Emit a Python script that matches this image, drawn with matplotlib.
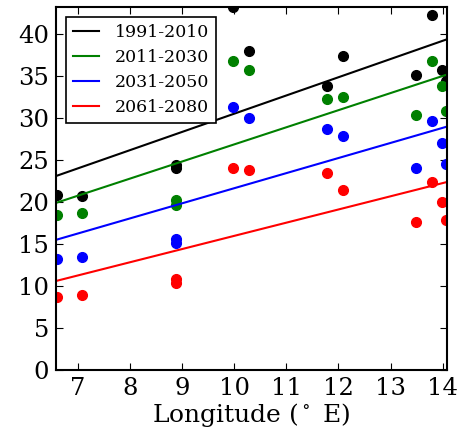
import matplotlib
matplotlib.use('Agg')
import matplotlib.pyplot as plt
import numpy as np

plt.rcParams['font.family'] = 'DejaVu Serif'
plt.rcParams['mathtext.fontset'] = 'dejavuserif'

# station longitudes (deg E)
lon = [6.60, 7.09, 8.88, 8.88, 9.98, 10.29, 11.79, 12.09, 13.49, 13.79, 13.99, 14.06]

periods = ['1991-2010', '2011-2030', '2031-2050', '2061-2080']
colors = ['k', 'g', 'b', 'r']

vals_1991 = [20.8, 20.7, 24.0, 24.4, 43.2, 38.0, 33.8, 37.4, 35.1, 42.3, 35.7, 34.4]
vals_2011 = [18.4, 18.65, 20.2, 19.6, 36.8, 35.7, 32.3, 32.5, 30.4, 36.8, 33.8, 30.9]
vals_2031 = [13.2, 13.45, 15.55, 15.1, 31.3, 30.0, 28.65, 27.9, 24.0, 29.7, 27.0, 24.5]
vals_2061 = [8.7, 8.9, 10.8, 10.4, 24.1, 23.8, 23.5, 21.4, 17.65, 22.4, 20.0, 17.9]
all_vals = [vals_1991, vals_2011, vals_2031, vals_2061]

# trend lines: value at left and right edge
trend_x = [6.585, 14.09]
trend_1991 = [23.1, 39.4]
trend_2011 = [19.9, 35.2]
trend_2031 = [15.5, 29.0]
trend_2061 = [10.6, 22.4]
all_trends = [trend_1991, trend_2011, trend_2031, trend_2061]

fig = plt.figure(figsize=(4.61, 4.36), dpi=100)
ax = fig.add_axes([0.1215, 0.1514, 0.849, 0.832])

for name, c, v, t in zip(periods, colors, all_vals, all_trends):
    ax.plot(trend_x, t, color=c, lw=1.5, label=name)
    ax.plot(lon, v, 'o', color=c, ms=7, mec=c)

ax.set_xlim(6.585, 14.09)
ax.set_ylim(0, 43.2)
ax.set_xticks(range(7, 15))
ax.set_yticks(range(0, 41, 5))
ax.tick_params(direction='in', top=True, right=True, length=5, labelsize=17.5, pad=5)
for s in ax.spines.values():
    s.set_linewidth(1.5)
ax.set_xlabel(r'Longitude ($^\circ$ E)', fontsize=18, labelpad=1)

leg = ax.legend(loc='upper left', fontsize=12.5, fancybox=False, framealpha=1,
                handlelength=1.55, handletextpad=0.9, borderaxespad=0.55,
                labelspacing=0.47)
leg.get_frame().set_edgecolor('k')
leg.get_frame().set_linewidth(1.2)

fig.savefig('out.png', dpi=100)
